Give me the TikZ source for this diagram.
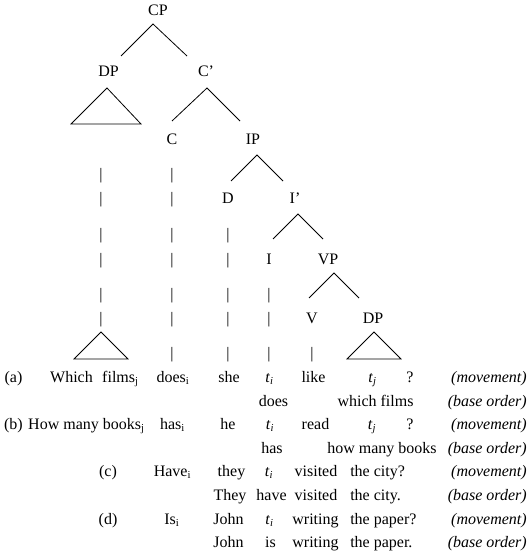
\documentclass[tikz,border=0pt]{standalone}
\usepackage{fontspec}
\setmainfont{Liberation Serif}
\newcommand{\trace}[1]{\textit{t}\textsubscript{\textit{#1}}}

\begin{document}
\begin{tikzpicture}[x=0.75pt,y=-0.75pt,font=\fontsize{12}{14}\selectfont,
    word/.style={inner sep=0pt,anchor=base},
    gloss/.style={inner sep=0pt,anchor=base east,font=\fontsize{12}{14}\selectfont\itshape},
    branch/.style={line width=0.6pt}]
        \useasboundingbox (0,0) rectangle (530,552);

{\node[word] (cp) at (158,16) {CP};}
{\node[word] (dp) at (108.5,77) {DP};}
{\node[word] (cbar) at (206,77) {C'};}
{\node[word] (c) at (172,145) {C};}
{\node[word] (ip) at (253,145) {IP};}
{\node[word] (d) at (228,204) {D};}
{\node[word] (ibar) at (295,204) {I'};}
{\node[word] (i) at (269,264) {I};}
{\node[word] (vp) at (328,264) {VP};}
{\node[word] (v) at (312,323) {V};}
{\node[word] (dpo) at (373,323) {DP};}

\draw[branch] ([shift={(12.5,-21)}]dp.base) -- ([shift={(-5,8)}]cp.base) -- ([shift={(-19,-21)}]cbar.base);
\draw[branch] ([shift={(0,-24)}]c.base) -- ([shift={(1,11)}]cbar.base) -- ([shift={(-13,-24)}]ip.base);
\draw[branch] ([shift={(3,-23)}]d.base) -- ([shift={(4,10)}]ip.base) -- ([shift={(-12,-23)}]ibar.base);
\draw[branch] ([shift={(4,-25)}]i.base) -- ([shift={(3,10)}]ibar.base) -- ([shift={(-5,-25)}]vp.base);
\draw[branch] ([shift={(-3,-25)}]v.base) -- ([shift={(6,9)}]vp.base) -- ([shift={(-14,-25)}]dpo.base);

\draw[branch] ([shift={(-37.5,47)}]dp.base) -- ([shift={(-1.5,11)}]dp.base) -- ([shift={(32.5,47)}]dp.base) -- cycle;
\draw[branch] (74,359) -- (101,332) -- (128,359) -- cycle;
\draw[branch] ([shift={(-26,36)}]dpo.base) -- ([shift={(1,9)}]dpo.base) -- ([shift={(28,36)}]dpo.base) -- cycle;

\foreach \r in {180,204,239,264,299,323} {\node[word] (bar-a-\r) at (101,\r) {|};}
\foreach \r in {180,204,239,264,299,323,358} {\node[word] (bar-c-\r) at (172,\r) {|};}
\foreach \r in {239,264,299,323,358} {\node[word] (bar-d-\r) at (228,\r) {|};}
\foreach \r in {299,323,358} {\node[word] (bar-i-\r) at (269,\r) {|};}
{\node[word] (bar-v-358) at (312,358) {|};}

{\node[word] (a-lab) at (13.5,382) {(a)};}
{\node[word] (a-which) at (71.5,382) {Which};}
{\node[word] (a-films) at (120.5,382) {films\textsubscript{j}};}
{\node[word] (a-does) at (173,382) {does\textsubscript{i}};}
{\node[word] (a-she) at (229,382) {she};}
{\node[word] (a-ti) at (269.5,382) {\trace{i}};}
{\node[word] (a-like) at (313.5,382) {like};}
{\node[word] (a-tj) at (372.5,382) {\trace{j}};}
{\node[word] (a-q) at (410,382) {?};}
{\node[gloss] (a-mov) at (527,382) {(movement)};}

{\node[word] (a2-does) at (273.5,406) {does};}
{\node[word] (a2-which) at (375.5,406) {which films};}
{\node[gloss] (a2-base) at (527,406) {(base order)};}

{\node[word] (b-lab) at (13.5,429) {(b)};}
{\node[word] (b-books) at (86.5,429) {How many books\textsubscript{j}};}
{\node[word] (b-has) at (172.5,429) {has\textsubscript{i}};}
{\node[word] (b-he) at (228,429) {he};}
{\node[word] (b-ti) at (270,429) {\trace{i}};}
{\node[word] (b-read) at (315.5,429) {read};}
{\node[word] (b-tj) at (372,429) {\trace{j}};}
{\node[word] (b-q) at (410,429) {?};}
{\node[gloss] (b-mov) at (527,429) {(movement)};}

{\node[word] (b2-has) at (272,453) {has};}
{\node[word] (b2-books) at (382,453) {how many books};}
{\node[gloss] (b2-base) at (527,453) {(base order)};}

{\node[word] (c-lab) at (108,476) {(c)};}
{\node[word] (c-have) at (172.5,476) {Have\textsubscript{i}};}
{\node[word] (c-they) at (231.5,476) {they};}
{\node[word] (c-ti) at (269,476) {\trace{i}};}
{\node[word] (c-visited) at (316,476) {visited};}
{\node[word,anchor=base west] (c-city) at (350,476) {the city?};}
{\node[gloss] (c-mov) at (527,476) {(movement)};}

{\node[word] (c2-they) at (230,500) {They};}
{\node[word] (c2-have) at (271.5,500) {have};}
{\node[word] (c2-visited) at (316,500) {visited};}
{\node[word,anchor=base west] (c2-city) at (350,500) {the city.};}
{\node[gloss] (c2-base) at (527,500) {(base order)};}

{\node[word] (d-lab) at (108,524) {(d)};}
{\node[word] (d-is) at (172,524) {Is\textsubscript{i}};}
{\node[word] (d-john) at (228.5,524) {John};}
{\node[word] (d-ti) at (269.5,524) {\trace{i}};}
{\node[word] (d-writing) at (315.5,524) {writing};}
{\node[word,anchor=base west] (d-paper) at (350,524) {the paper?};}
{\node[gloss] (d-mov) at (527,524) {(movement)};}

{\node[word] (d2-john) at (228.5,547) {John};}
{\node[word] (d2-is) at (270.5,547) {is};}
{\node[word] (d2-writing) at (315.5,547) {writing};}
{\node[word,anchor=base west] (d2-paper) at (350,547) {the paper.};}
{\node[gloss] (d2-base) at (527,547) {(base order)};}

\end{tikzpicture}
\end{document}
